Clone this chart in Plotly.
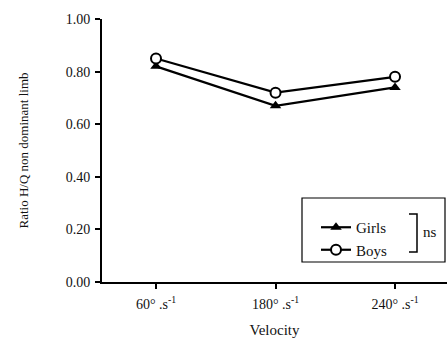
import plotly.graph_objects as go

velocities = ["60° .s<sup>-1</sup>", "180° .s<sup>-1</sup>", "240° .s<sup>-1</sup>"]
girls = [0.82, 0.67, 0.74]
boys = [0.85, 0.72, 0.78]
yticks = [0.0, 0.2, 0.4, 0.6, 0.8, 1.0]

W, H = 447, 338
L, R, T, B = 102, 0, 19, 56
pw, ph = W - L - R, H - T - B

def px(x):
    return (x - L) / pw

def py(y):
    return (H - B - y) / ph

font = "Liberation Serif"
ink = "#111"
fig = go.Figure()
fig.add_trace(go.Scatter(x=velocities, y=girls, name="Girls", mode="lines+markers",
                         line=dict(color="black", width=2.2),
                         marker=dict(symbol="triangle-up", size=10, color="black")))
fig.add_trace(go.Scatter(x=velocities, y=boys, name="Boys", mode="lines+markers",
                         line=dict(color="black", width=2.2),
                         marker=dict(symbol="circle", size=10, color="white",
                                     line=dict(color="black", width=2))))

fig.update_layout(
    width=W, height=H, margin=dict(l=L, r=R, t=T, b=B),
    paper_bgcolor="white", plot_bgcolor="white",
    font=dict(family=font, color=ink, size=14),
    showlegend=True,
    legend=dict(x=px(316), y=py(211), xanchor="left", yanchor="top",
                bgcolor="rgba(0,0,0,0)", font=dict(family=font, size=15, color=ink),
                itemwidth=30, tracegroupgap=0),
    xaxis=dict(type="category", range=[-0.452, 2.435], showline=True,
               linecolor="black", linewidth=2, ticks="outside", ticklen=5,
               tickwidth=2, tickcolor="black", showgrid=False,
               ticklabelstandoff=3,
               title=dict(text="Velocity", font=dict(size=15), standoff=14),
               tickfont=dict(size=14)),
    yaxis=dict(range=[0, 1], tickvals=yticks, tickformat=".2f", showline=True,
               linecolor="black", linewidth=2, ticks="outside", ticklen=5,
               tickwidth=2, tickcolor="black", showgrid=False, zeroline=False,
               ticklabelstandoff=2,
               title=dict(text="Ratio H/Q non dominant limb", font=dict(size=13), standoff=34),
               tickfont=dict(size=14)),
)

# legend box
fig.add_shape(type="rect", xref="paper", yref="paper",
              x0=px(302), x1=px(445), y0=py(262), y1=py(198),
              line=dict(color="black", width=1.2))
# bracket
fig.add_shape(type="path", xref="paper", yref="paper",
              path=f"M {px(409)} {py(214)} L {px(417)} {py(214)} L {px(417)} {py(252)} L {px(409)} {py(252)}",
              line=dict(color="black", width=1.5))
fig.add_annotation(text="ns", xref="paper", yref="paper", x=px(421), y=py(232),
                   xanchor="left", yanchor="middle", showarrow=False,
                   font=dict(family=font, size=15, color=ink))

fig.write_html("out.html")
